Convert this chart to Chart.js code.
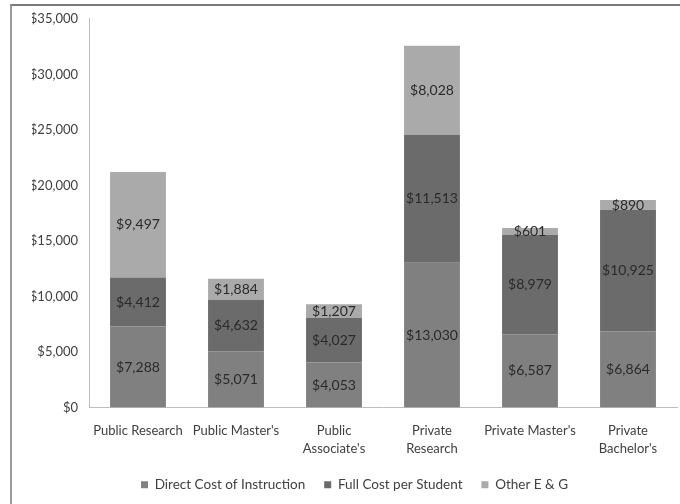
<!DOCTYPE html>
<html>
<head>
<meta charset="utf-8">
<script src="https://cdn.jsdelivr.net/npm/chart.js@4"></script>
<style>
  body { margin: 0; background: #fff; overflow: hidden; }
  #frame { position: absolute; left: 10px; top: 4px; width: 700px; height: 540px;
           border-left: 2px solid #9a9a9a; border-top: 2px solid #7a7a7a; }
  #wrap { position: absolute; left: 0; top: 0; width: 680px; height: 504px; }
</style>
</head>
<body>
<div id="frame"></div>
<div id="wrap"><canvas id="costChart"></canvas></div>
<script>
const categories = ['Public Research', "Public Master's", ['Public', "Associate's"],
    ['Private', 'Research'], "Private Master's", ['Private', "Bachelor's"]];
const directCost = [7288, 5071, 4053, 13030, 6587, 6864];
const fullCost = [4412, 4632, 4027, 11513, 8979, 10925];
const otherEG = [9497, 1884, 1207, 8028, 601, 890];
const yTicks = [0, 5000, 10000, 15000, 20000, 25000, 30000, 35000];

const fontFamily = 'Lato, "Open Sans", sans-serif';
const fmt = v => '$' + v.toLocaleString('en-US');

// draws the value in the middle of each bar segment
const segmentLabels = {
    id: 'segmentLabels',
    afterDatasetsDraw(chart) {
        const ctx = chart.ctx;
        ctx.save();
        ctx.font = '14px ' + fontFamily;
        ctx.fillStyle = '#2a2a2a';
        ctx.textAlign = 'center';
        ctx.textBaseline = 'middle';
        chart.data.datasets.forEach((ds, i) => {
            chart.getDatasetMeta(i).data.forEach((bar, j) => {
                const mid = (bar.y + bar.base) / 2;
                ctx.fillText(fmt(ds.data[j]), bar.x, mid);
            });
        });
        ctx.restore();
    }
};

new Chart(document.getElementById('costChart'), {
    type: 'bar',
    data: {
        labels: categories,
        datasets: [
            { label: 'Direct Cost of Instruction', data: directCost, backgroundColor: '#808080' },
            { label: 'Full Cost per Student', data: fullCost, backgroundColor: '#6b6b6b' },
            { label: 'Other E & G', data: otherEG, backgroundColor: '#aaaaaa' }
        ]
    },
    options: {
        responsive: true,
        maintainAspectRatio: false,
        animation: false,
        layout: { padding: { left: 32, top: 10, right: 3, bottom: 2.5 } },
        datasets: { bar: { categoryPercentage: 1, barPercentage: 0.57 } },
        scales: {
            x: {
                stacked: true,
                afterFit: scale => { scale.height = 58.5; },
                grid: { display: false, drawTicks: false },
                border: { color: '#bdbdbd' },
                ticks: { color: '#404040', font: { family: fontFamily, size: 13, lineHeight: 1.385 },
                         padding: 14, maxRotation: 0 }
            },
            y: {
                stacked: true,
                min: 0, max: 35000,
                afterBuildTicks: scale => { scale.ticks = yTicks.map(v => ({ value: v })); },
                afterFit: scale => { scale.width = 57; },
                grid: { display: false, drawTicks: false },
                border: { color: '#bdbdbd' },
                ticks: { color: '#404040', font: { family: fontFamily, size: 13 }, padding: 11, callback: v => fmt(v) }
            }
        },
        plugins: {
            tooltip: { enabled: false },
            legend: {
                position: 'bottom',
                labels: {
                    color: '#404040',
                    font: { family: fontFamily, size: 13.5 },
                    boxWidth: 7, boxHeight: 7, padding: 12,
                    generateLabels: chart => {
                        const items = Chart.defaults.plugins.legend.labels.generateLabels(chart);
                        items.forEach((it, i) => {
                            it.lineWidth = 0;
                            if (i < items.length - 1) it.text += '\u00a0\u00a0';
                        });
                        return items;
                    }
                }
            }
        }
    },
    plugins: [segmentLabels]
});
</script>
</body>
</html>
